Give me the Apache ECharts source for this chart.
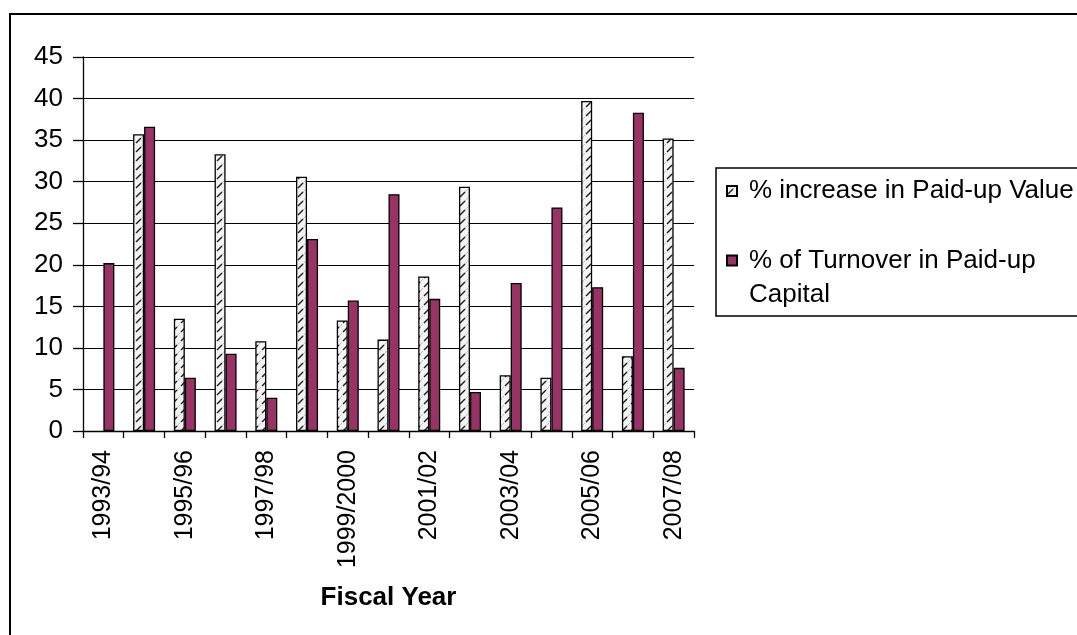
<!DOCTYPE html>
<html>
<head>
<meta charset="utf-8">
<script src="https://cdn.jsdelivr.net/npm/echarts@6/dist/echarts.min.js"></script>
<style>
  html, body { margin: 0; padding: 0; background: #fff; }
  #chart { width: 1077px; height: 635px; }
</style>
</head>
<body>
<div id="chart"></div>
<script>
// Fiscal years on the category axis
const fiscalYears = [
  '1993/94', '1994/95', '1995/96', '1996/97', '1997/98', '1998/99', '1999/2000',
  '2000/01', '2001/02', '2002/03', '2003/04', '2004/05', '2005/06', '2006/07', '2007/08'
];

// % increase in paid-up value (no figure for the first year)
const paidUpIncrease = [null, 35.7, 13.5, 33.3, 10.8, 30.6, 13.3, 11.0, 18.6, 29.4, 6.7, 6.4, 39.7, 9.0, 35.2];

// % of turnover in paid-up capital
const turnoverShare = [20.2, 36.6, 6.4, 9.3, 4.0, 23.1, 15.7, 28.5, 15.9, 4.7, 17.8, 26.9, 17.3, 38.3, 7.6];

// Value axis ticks
const yTicks = { min: 0, max: 45, interval: 5 };

const seriesNames = ['% increase in Paid-up Value', '% of Turnover in Paid-up Capital'];

const FONT = '"Liberation Sans", Arial, sans-serif';

// Dashed diagonal fill for the paid-up value bars
function hatchTile() {
  const c = document.createElement('canvas');
  c.width = 9; c.height = 9;
  const g = c.getContext('2d');
  g.fillStyle = '#f3f3f3';
  g.fillRect(0, 0, 9, 9);
  g.strokeStyle = '#1e1e1e';
  g.lineWidth = 1.4;
  g.beginPath();
  g.moveTo(1, 8);
  g.lineTo(6, 3);
  g.stroke();
  g.strokeStyle = '#bdbdbd';
  g.lineWidth = 1;
  g.beginPath();
  g.moveTo(6, 3);
  g.lineTo(9, 0);
  g.stroke();
  return c;
}

const chart = echarts.init(document.getElementById('chart'), null, { renderer: 'canvas' });

chart.setOption({
  backgroundColor: '#ffffff',
  animation: false,
  textStyle: { fontFamily: FONT, color: '#000' },
  grid: { left: 83, top: 57, width: 611, height: 374, containLabel: false },
  graphic: [
    { // outer chart frame
      type: 'rect', z: 0,
      shape: { x: 10, y: 14, width: 1200, height: 800 },
      style: { fill: null, stroke: '#000', lineWidth: 2 }
    },
    { // legend frame
      type: 'rect', z: 0,
      shape: { x: 716, y: 168, width: 500, height: 148 },
      style: { fill: null, stroke: '#000', lineWidth: 1.5 }
    }
  ],
  legend: [
    {
      data: [seriesNames[0]],
      left: 726, top: 176, padding: 0,
      itemWidth: 10, itemHeight: 10, icon: 'rect',
      selectedMode: false,
      textStyle: { fontFamily: FONT, fontSize: 26, color: '#000', lineHeight: 30, padding: [0, 0, 0, 7] }
    },
    {
      data: [seriesNames[1]],
      left: 726, top: 209.5, padding: 0,
      itemWidth: 10, itemHeight: 10, icon: 'rect',
      selectedMode: false,
      formatter: () => '{t|% of Turnover in Paid-up}\n{t|Capital}',
      textStyle: {
        fontFamily: FONT, fontSize: 26, color: '#000', lineHeight: 34,
        padding: [34, 0, 0, 7],
        rich: { t: { fontFamily: FONT, fontSize: 26, color: '#000', lineHeight: 34 } }
      }
    }
  ],
  xAxis: {
    type: 'category',
    data: fiscalYears,
    name: 'Fiscal Year',
    nameLocation: 'middle',
    nameGap: 154,
    nameTextStyle: { fontFamily: FONT, fontSize: 26, fontWeight: 'bold', color: '#000' },
    axisLine: { show: true, lineStyle: { color: '#000', width: 1.3 } },
    axisTick: { show: true, interval: 0, length: 7, lineStyle: { color: '#000', width: 1.3 } },
    axisLabel: {
      interval: 1, rotate: 90, margin: 19,
      fontFamily: FONT, fontSize: 25, color: '#000'
    },
    splitLine: { show: false }
  },
  yAxis: {
    type: 'value',
    min: yTicks.min, max: yTicks.max, interval: yTicks.interval,
    axisLine: { show: true, lineStyle: { color: '#000', width: 1.3 } },
    axisTick: { show: true, length: 10, lineStyle: { color: '#000', width: 1.3 } },
    axisLabel: { margin: 20, fontFamily: FONT, fontSize: 26, color: '#000' },
    splitLine: { show: true, lineStyle: { color: '#000', width: 1.2 } }
  },
  series: [
    {
      name: seriesNames[0],
      type: 'bar',
      data: paidUpIncrease,
      barWidth: 11,
      barGap: '0%',
      itemStyle: {
        color: { image: hatchTile(), repeat: 'repeat' },
        borderColor: '#000', borderWidth: 1.3
      }
    },
    {
      name: seriesNames[1],
      type: 'bar',
      data: turnoverShare,
      barWidth: 11,
      barGap: '0%',
      itemStyle: { color: '#993366', borderColor: '#000', borderWidth: 1.3 }
    }
  ]
});
</script>
</body>
</html>
